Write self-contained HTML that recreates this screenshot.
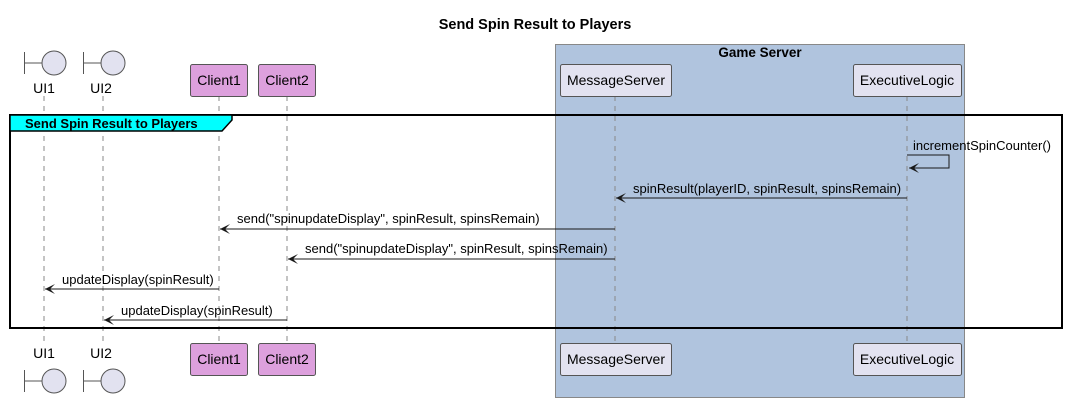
<!DOCTYPE html>
<html><head><meta charset="utf-8"><style>body{margin:0;background:#fff}svg{display:block}text{font-family:"Liberation Sans",sans-serif;font-size:13px;fill:#000}</style></head><body>
<svg width="1067" height="402" viewBox="0 0 1067 402" xmlns="http://www.w3.org/2000/svg">
<defs><marker id="a" viewBox="0 0 12 10" refX="11" refY="5" markerWidth="12" markerHeight="10" orient="auto" markerUnits="userSpaceOnUse"><path d="M1,0 L11,5 L1,10 L6,5 Z" fill="#181818"/></marker></defs>
<text x="535" y="29" text-anchor="middle" style="font-weight:bold;font-size:14.5px">Send Spin Result to Players</text>
<rect x="555.5" y="44.5" width="409" height="353" fill="#B0C4DE" stroke="#888"/>
<text x="760" y="57" text-anchor="middle" style="font-weight:bold;font-size:13.5px">Game Server</text>
<g stroke="#888" stroke-dasharray="5,5">
<line x1="44" y1="96" x2="44" y2="343"/><line x1="103" y1="96" x2="103" y2="343"/>
<line x1="219" y1="96" x2="219" y2="343"/><line x1="287" y1="96" x2="287" y2="343"/>
<line x1="615" y1="96" x2="615" y2="343"/><line x1="907" y1="96" x2="907" y2="343"/>
</g>
<g stroke="#555" fill="#E2E2F0">
<path d="M24.5,52V74M24.5,63H42" fill="none"/><circle cx="54" cy="63" r="12"/>
<path d="M83.5,52V74M83.5,63H101" fill="none"/><circle cx="113" cy="63" r="12"/>
<path d="M24.5,370V392M24.5,381H42" fill="none"/><circle cx="54" cy="381" r="12"/>
<path d="M83.5,370V392M83.5,381H101" fill="none"/><circle cx="113" cy="381" r="12"/>
<rect x="190.5" y="64.5" width="57" height="32" rx="2" fill="#DDA0DD"/>
<rect x="258.5" y="64.5" width="57" height="32" rx="2" fill="#DDA0DD"/>
<rect x="560.5" y="64.5" width="111" height="32" rx="2"/>
<rect x="853.5" y="64.5" width="108" height="32" rx="2"/>
<rect x="190.5" y="343.5" width="57" height="32" rx="2" fill="#DDA0DD"/>
<rect x="258.5" y="343.5" width="57" height="32" rx="2" fill="#DDA0DD"/>
<rect x="560.5" y="343.5" width="111" height="32" rx="2"/>
<rect x="853.5" y="343.5" width="108" height="32" rx="2"/>
</g>
<g text-anchor="middle" style="font-size:14px">
<text x="44" y="93" style="font-size:14px">UI1</text><text x="101" y="93" style="font-size:14px">UI2</text>
<text x="219" y="85" style="font-size:14px">Client1</text><text x="287" y="85" style="font-size:14px">Client2</text>
<text x="616" y="85" style="font-size:14px">MessageServer</text><text x="907" y="85" style="font-size:14px">ExecutiveLogic</text>
<text x="44" y="358" style="font-size:14px">UI1</text><text x="101" y="358" style="font-size:14px">UI2</text>
<text x="219" y="364" style="font-size:14px">Client1</text><text x="287" y="364" style="font-size:14px">Client2</text>
<text x="616" y="364" style="font-size:14px">MessageServer</text><text x="907" y="364" style="font-size:14px">ExecutiveLogic</text>
</g>
<rect x="10" y="115" width="1052" height="213" fill="none" stroke="#000" stroke-width="2"/>
<path d="M10,115H232V120L222,131H10Z" fill="#00FFFF" stroke="#000" stroke-width="1.5"/>
<text x="25" y="128" style="font-weight:bold">Send Spin Result to Players</text>
<g stroke="#181818" fill="none">
<path d="M907,155H949V168H909" marker-end="url(#a)"/>
<line x1="907" y1="198" x2="616" y2="198" marker-end="url(#a)"/>
<line x1="615" y1="229" x2="220" y2="229" marker-end="url(#a)"/>
<line x1="615" y1="259" x2="288" y2="259" marker-end="url(#a)"/>
<line x1="219" y1="289" x2="45" y2="289" marker-end="url(#a)"/>
<line x1="287" y1="320" x2="104" y2="320" marker-end="url(#a)"/>
</g>
<text x="913" y="150">incrementSpinCounter()</text>
<text x="633" y="193">spinResult(playerID, spinResult, spinsRemain)</text>
<text x="237" y="223">send("spinupdateDisplay", spinResult, spinsRemain)</text>
<text x="305" y="253">send("spinupdateDisplay", spinResult, spinsRemain)</text>
<text x="62" y="284">updateDisplay(spinResult)</text>
<text x="121" y="315">updateDisplay(spinResult)</text>
</svg>
</body></html>
